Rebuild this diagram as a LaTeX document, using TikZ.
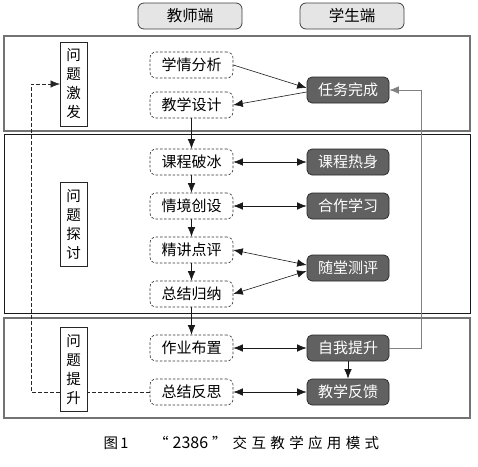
\documentclass[tikz,border=0pt]{standalone}
\usepackage{fontspec}
\newfontfamily\cjk{Noto Sans CJK SC}
\usetikzlibrary{arrows.meta,calc}
\begin{document}
\begin{tikzpicture}[x=1pt,y=-1pt,
  every node/.style={inner sep=0pt},
  hdr/.style={draw=black!75, line width=0.8pt, fill=black!10, rounded corners=6pt, minimum width=104pt, minimum height=26pt, font=\cjk\fontsize{15.5}{16}\selectfont},
  teach/.style={draw=black!80, dash pattern=on 2.5pt off 1.8pt, line width=0.6pt, fill=white, rounded corners=6pt, minimum width=83pt, minimum height=26pt, font=\cjk\fontsize{15}{16}\selectfont},
  stud/.style={draw=black!85, line width=0.7pt, fill=black!62, text=white, rounded corners=5pt, minimum width=82pt, minimum height=26pt, font=\cjk\fontsize{15}{16}\selectfont},
  lab/.style={draw=black!85, line width=0.7pt, fill=white, minimum width=27pt, minimum height=84pt, align=center, font=\cjk\fontsize{14.5}{19}\selectfont},
  arr/.style={-{Latex[length=9.5pt,width=7.5pt]}, line width=0.6pt, draw=black!90},
  darr/.style={{Latex[length=9.5pt,width=7.5pt]}-{Latex[length=9.5pt,width=7.5pt]}, line width=0.6pt, draw=black!90},
  capfont/.style={font=\cjk\fontsize{14.5}{14}\selectfont},
]
\useasboundingbox (0,0) rectangle (478,466);
% panels
\draw[draw=black!55, line width=1.4pt] (4,36) rectangle (470,131);
\draw[draw=black!90, line width=0.9pt] (4,134) rectangle (470,313);
\draw[draw=black!55, line width=1.4pt] (4,318) rectangle (470,418);
% headers
\node[hdr] (ht) at (190,16) {教师端};
\node[hdr] (hs) at (352,16) {学生端};
% teacher nodes
\node[teach] (xq) at (191.5,65) {学情分析};
\node[teach] (jx) at (191.5,105) {教学设计};
\node[teach] (kp) at (191.5,162) {课程破冰};
\node[teach] (qj) at (191.5,206) {情境创设};
\node[teach] (jj) at (191.5,250) {精讲点评};
\node[teach] (zg) at (191.5,294) {总结归纳};
\node[teach] (zy) at (191.5,348) {作业布置};
\node[teach] (zf) at (191.5,392) {总结反思};
% student nodes
\node[stud] (rw) at (348,90) {任务完成};
\node[stud] (kr) at (348,162) {课程热身};
\node[stud] (hz) at (348,206) {合作学习};
\node[stud] (st) at (348,268) {随堂测评};
\node[stud] (zw) at (348,348) {自我提升};
\node[stud] (jf) at (348,392) {教学反馈};
% dashed feedback line (behind label boxes)
\coordinate (dl) at (31,0);
\coordinate (wjw) at (60,84);
\draw[dash pattern=on 3.5pt off 2.5pt, line width=0.6pt, draw=black!85, -{Latex[length=9.5pt,width=7.5pt]}] (zf.west) -- (zf.west -| dl) -- (wjw -| dl) -- (wjw);
% label boxes
\node[lab] (wj) at (73.5,84) {问\\题\\激\\发};
\node[lab] (wt) at (73.5,224) {问\\题\\探\\讨};
\node[lab] (ws) at (73.5,369.5) {问\\题\\提\\升};
% arrows top panel
\draw[arr] (xq.east) -- ($(rw.west)+(0,-2)$);
\draw[arr] ($(rw.west)+(0,2)$) -- (jx.east);
% vertical chain
\draw[arr] (jx.south) -- (kp.north);
\draw[arr] (kp.south) -- (qj.north);
\draw[arr] (qj.south) -- (jj.north);
\draw[arr] (jj.south) -- (zg.north);
\draw[arr] (zg.south) -- (zy.north);
% horizontal double arrows
\draw[darr] (kp.east) -- (kr.west);
\draw[darr] (qj.east) -- (hz.west);
\draw[darr] (jj.east) -- ($(st.west)+(0,-3)$);
\draw[darr] (zg.east) -- ($(st.west)+(0,3)$);
\draw[darr] (zy.east) -- (zw.west);
\draw[darr] (zf.east) -- (jf.west);
\draw[arr] (zw.south) -- (jf.north);
% gray feedback
\coordinate (fb) at (421,0);
\draw[-{Latex[length=9.5pt,width=7.5pt]}, line width=0.7pt, draw=black!50] (zw.east) -- (zw.east -| fb) -- (rw.east -| fb) -- (rw.east);
% caption
\node[capfont] (cap1) at (116,443) {图\,1};
\node[capfont, anchor=west] (cap2) at (154,443) {“\kern4pt{\fontsize{16}{16}\selectfont 2386}\kern4pt”\kern6pt{\addfontfeature{LetterSpace=30}交互教学应用模式}};
\end{tikzpicture}
\end{document}
